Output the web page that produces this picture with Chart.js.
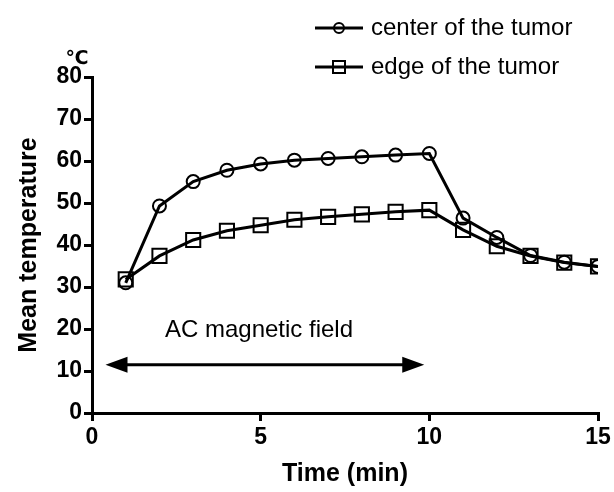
<!DOCTYPE html>
<html>
<head>
<meta charset="utf-8">
<script src="https://cdn.jsdelivr.net/npm/chart.js"></script>
<style>
  html, body { margin: 0; padding: 0; background: #fff; }
  #wrap { width: 614px; height: 492px; }
</style>
</head>
<body>
<div id="wrap"><canvas id="chart" width="614" height="492"></canvas></div>
<script>
const times = [1, 2, 3, 4, 5, 6, 7, 8, 9, 10, 11, 12, 13, 14, 15];
const centerTemps = [31, 49.3, 55.1, 57.8, 59.3, 60.2, 60.6, 61.0, 61.4, 61.8, 46.4, 41.8, 37.5, 35.9, 34.9];
const edgeTemps = [31.8, 37.4, 41.2, 43.4, 44.7, 46.0, 46.7, 47.3, 47.9, 48.3, 43.6, 39.7, 37.4, 35.8, 34.9];
const seriesNames = ['center of the tumor', 'edge of the tumor'];
const xTicks = [0, 5, 10, 15];
const yTicks = [0, 10, 20, 30, 40, 50, 60, 70, 80];
const fieldLabel = 'AC magnetic field';
const fieldStart = 0.4;
const fieldEnd = 9.85;
const fieldLevel = 11.5;

const FAMILY = 'Liberation Sans, Arial, sans-serif';
const tickFont = { family: FAMILY, size: 23, weight: 'bold' };
const titleFont = { family: FAMILY, size: 25, weight: 'bold' };

// legend, unit label and the field arrow
const extras = {
  id: 'extras',
  afterDraw(chart) {
    const ctx = chart.ctx;
    const xs = chart.scales.x, ys = chart.scales.y;
    ctx.save();
    ctx.strokeStyle = '#000';
    ctx.fillStyle = '#000';

    // legend
    ctx.font = '24px ' + FAMILY;
    ctx.textBaseline = 'middle';
    seriesNames.forEach((name, i) => {
      const y = 28 + i * 39;
      ctx.lineWidth = 3;
      ctx.beginPath();
      ctx.moveTo(315, y);
      ctx.lineTo(363, y);
      ctx.stroke();
      ctx.lineWidth = 2;
      ctx.beginPath();
      if (i === 0) ctx.arc(339, y, 5, 0, Math.PI * 2);
      else ctx.rect(333, y - 6, 12, 12);
      ctx.stroke();
      ctx.fillText(name, 371, y);
    });

    // unit
    ctx.font = 'bold 19px DejaVu Sans, sans-serif';
    ctx.textAlign = 'center';
    ctx.fillText('℃', 77, 59);

    // field arrow
    const x1 = xs.getPixelForValue(fieldStart);
    const x2 = xs.getPixelForValue(fieldEnd);
    const ay = ys.getPixelForValue(fieldLevel);
    ctx.lineWidth = 3;
    ctx.beginPath();
    ctx.moveTo(x1 + 10, ay);
    ctx.lineTo(x2 - 10, ay);
    ctx.stroke();
    [[x1, 1], [x2, -1]].forEach(([tip, dir]) => {
      ctx.beginPath();
      ctx.moveTo(tip, ay);
      ctx.lineTo(tip + dir * 22, ay - 8);
      ctx.lineTo(tip + dir * 22, ay + 8);
      ctx.closePath();
      ctx.fill();
    });
    ctx.font = '24px ' + FAMILY;
    ctx.fillText(fieldLabel, xs.getPixelForValue(4.95), ys.getPixelForValue(19.6));
    ctx.restore();
  }
};

const toPoints = vals => times.map((t, i) => ({ x: t, y: vals[i] }));

new Chart(document.getElementById('chart'), {
  type: 'line',
  data: {
    datasets: [
      {
        label: seriesNames[1],
        data: toPoints(edgeTemps),
        borderColor: '#000',
        borderWidth: 3,
        pointStyle: 'rect',
        pointRadius: 10,
        pointBorderWidth: 2,
        pointBorderColor: '#000',
        pointBackgroundColor: 'rgba(255,255,255,0)',
        tension: 0
      },
      {
        label: seriesNames[0],
        data: toPoints(centerTemps),
        borderColor: '#000',
        borderWidth: 3,
        pointStyle: 'circle',
        pointRadius: 6.5,
        pointBorderWidth: 2,
        pointBorderColor: '#000',
        pointBackgroundColor: 'rgba(255,255,255,0)',
        tension: 0
      }
    ]
  },
  options: {
    responsive: false,
    animation: false,
    events: [],
    layout: { padding: { top: 77, right: 16, left: 0, bottom: 0 } },
    plugins: { legend: { display: false }, tooltip: { enabled: false } },
    scales: {
      x: {
        type: 'linear',
        min: 0,
        max: 15,
        afterBuildTicks: s => { s.ticks = xTicks.map(v => ({ value: v })); },
        afterFit: s => { s.height = 79; },
        border: { display: true, color: '#000', width: 3 },
        grid: { drawOnChartArea: false, drawTicks: true, tickLength: 8, color: '#000', lineWidth: 3 },
        ticks: { color: '#000', font: tickFont, padding: 3, maxRotation: 0 },
        title: {
          display: true,
          text: 'Time (min)',
          color: '#000',
          font: titleFont,
          padding: { top: 0, bottom: 3 }
        }
      },
      y: {
        min: 0,
        max: 80,
        afterBuildTicks: s => { s.ticks = yTicks.map(v => ({ value: v })); },
        afterFit: s => { s.width = 92; },
        border: { display: true, color: '#000', width: 3 },
        grid: { drawOnChartArea: false, drawTicks: true, tickLength: 8, color: '#000', lineWidth: 3 },
        ticks: { color: '#000', font: tickFont, padding: 2 },
        title: {
          display: true,
          text: 'Mean temperature',
          color: '#000',
          font: titleFont,
          padding: { top: 14, bottom: 0 }
        }
      }
    }
  },
  plugins: [extras]
});
</script>
</body>
</html>
